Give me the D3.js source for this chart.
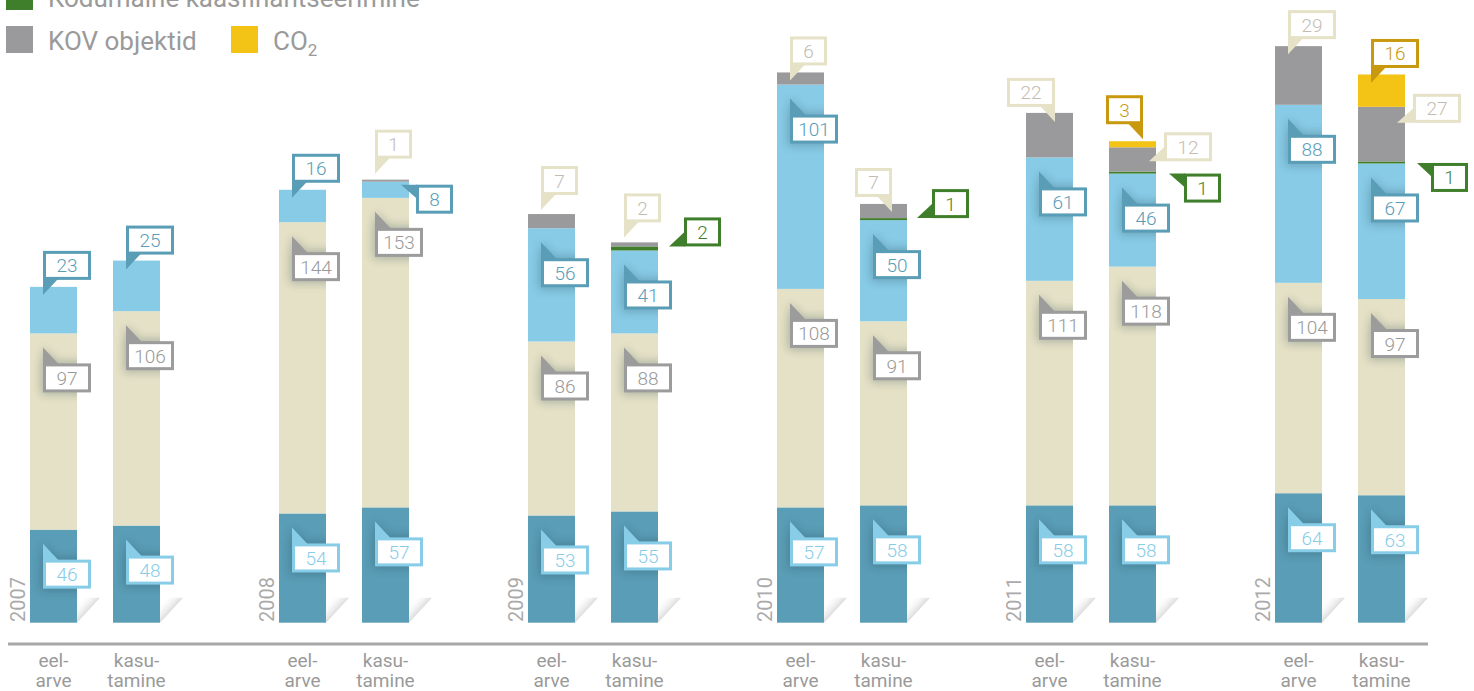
<!DOCTYPE html>
<html><head><meta charset="utf-8">
<script src="https://cdn.jsdelivr.net/npm/d3@7/dist/d3.min.js"></script>
<style>
html,body{margin:0;padding:0;background:#fff;}
svg{display:block;font-family:Roboto,"Noto Sans",sans-serif;}
</style></head>
<body>
<svg id="chart" width="1474" height="691"></svg>
<script>
// ---------- data ----------
const years = ["2007","2008","2009","2010","2011","2012"];
const kinds = ["eelarve","kasutamine"];
const kindLabels = [["eel-","arve"],["kasu-","tamine"]];
const seriesKeys = ["s1","s2","s3","kaasfin","kov","co2"];
// values per bar: 2007 eelarve, 2007 kasutamine, 2008 eelarve, ...
const s1Values      = [46, 48, 54, 57, 53, 55, 57, 58, 58, 58, 64, 63];
const s2Values      = [97, 106, 144, 153, 86, 88, 108, 91, 111, 118, 104, 97];
const s3Values      = [23, 25, 16, 8, 56, 41, 101, 50, 61, 46, 88, 67];
const kaasfinValues = [0, 0, 0, 0, 0, 2, 0, 1, 0, 1, 0, 1];
const kovValues     = [0, 0, 0, 1, 7, 2, 6, 7, 22, 12, 29, 27];
const co2Values     = [0, 0, 0, 0, 0, 0, 0, 0, 0, 3, 0, 16];
const legendLabels = {kaasfin:"Kodumaine kaasfinantseerimine", kov:"KOV objektid", co2:"CO"};

// ---------- styles ----------
const fillColor = {s1:"#5a9db6", s2:"#e5e1c6", s3:"#88cbe6", kaasfin:"#3f7f2b", kov:"#9a9a9c", co2:"#f3c315"};
const labelColor = {s1:"#88cde8", s2:"#9c9c9c", s3:"#5a9db6", kaasfin:"#3f7f2b", kov:"#e6e2c8", co2:"#c8990f"};
const labelText = {s1:"#88cde8", s2:"#999999", s3:"#5a9db6", kaasfin:"#3f7f2b", kov:"#c4bcb2", co2:"#c8990f"};
// label placement (layout only)
const defaultMode = {s1:{mode:"in"}, s2:{mode:"in"}, s3:{mode:"in"}};
const placement = {
  "0:s3":{mode:"above",t:8}, "1:s3":{mode:"above",t:9}, "2:s3":{mode:"above",t:8},
  "3:s3":{mode:"rightTop",gap:7,tip:-8,dy:3},
  "3:kov":{mode:"above",t:-6}, "4:kov":{mode:"above",t:-4}, "5:kov":{mode:"above",t:-5},
  "6:kov":{mode:"above",t:8}, "7:kov":{mode:"aboveR",t:8,dx:32}, "8:kov":{mode:"aboveR",t:9,dx:29},
  "9:kov":{mode:"rightBot",gap:8,tip:-7,dy:14}, "10:kov":{mode:"above",t:8},
  "11:kov":{mode:"rightBot",gap:8,tip:-8,dy:16},
  "5:kaasfin":{mode:"rightBot",gap:26,tip:11,dy:0}, "7:kaasfin":{mode:"rightBot",gap:25,tip:10,dy:0},
  "9:kaasfin":{mode:"rightTop",gap:28,tip:13,dy:2}, "11:kaasfin":{mode:"rightTop",gap:26,tip:12,dy:1.5},
  "9:co2":{mode:"aboveR",t:-2,dx:34}, "11:co2":{mode:"above",t:8.5}
};

// ---------- build ----------
const valuesByKey = {s1:s1Values, s2:s2Values, s3:s3Values, kaasfin:kaasfinValues, kov:kovValues, co2:co2Values};
const bars = [];
years.forEach((y,i)=>kinds.forEach((k,j)=>{
  const idx = i*2+j; const row = {year:y, kind:k, idx};
  seriesKeys.forEach(s=>row[s]=valuesByKey[s][idx]);
  bars.push(row);
}));
const stack = d3.stack().keys(seriesKeys)(bars);

const svg = d3.select("#chart");
const x0 = d3.scaleBand().domain(years).range([20, 20+249*6]);
const x1 = d3.scaleBand().domain(kinds).range([10, 140]).paddingInner(0.434);
const y = d3.scaleLinear().domain([0,300]).range([622.7, 622.7-300*2.023]);
const bw = x1.bandwidth();
const barLeft = d => x0(d.year)+x1(d.kind);

const defs = svg.append("defs");
const grad = defs.append("linearGradient").attr("id","fold")
  .attr("x1",0.6).attr("y1",0.6).attr("x2",0.1).attr("y2",0.1);
grad.append("stop").attr("offset",0).attr("stop-color","#888").attr("stop-opacity",0.45);
grad.append("stop").attr("offset",1).attr("stop-color","#fff").attr("stop-opacity",0);
defs.append("filter").attr("id","blur").attr("x","-50%").attr("y","-50%").attr("width","200%").attr("height","200%")
  .append("feGaussianBlur").attr("stdDeviation",5);
bars.forEach(d=>{
  defs.append("clipPath").attr("id","clip"+d.idx).append("rect")
    .attr("x",barLeft(d)).attr("y",0).attr("width",bw).attr("height",y(0));
});

// fold shadows
svg.append("g").selectAll("path").data(bars).join("path")
  .attr("d",d=>{const R=barLeft(d)+bw, B=y(0); return `M${R},${B}L${R+23},${B-25}L${R},${B-25}Z`;})
  .attr("fill","url(#fold)");

// bars
svg.append("g").selectAll("g").data(stack).join("g")
  .attr("fill",s=>fillColor[s.key])
  .selectAll("rect").data(s=>s.map(p=>({p,key:s.key}))).join("rect")
  .attr("x",d=>barLeft(d.p.data)).attr("width",bw)
  .attr("y",d=>y(d.p[1])).attr("height",d=>Math.max(0,y(d.p[0])-y(d.p[1])));

// labels
const labels = [];
stack.forEach(s=>s.forEach(p=>{
  const v = p[1]-p[0]; if(v<=0) return;
  const d = p.data; const key = `${d.idx}:${s.key}`;
  const pl = placement[key] || defaultMode[s.key];
  labels.push({d, s:s.key, v, top:y(p[1]), pl});
}));

const BH = 29;
function geom(L){
  const v=L.v, w = String(v).length===1?37:48;
  const bl = barLeft(L.d), br = bl+bw, top = L.top, pl=L.pl;
  let bx, by, tri;
  if(pl.mode==="in"){
    bx = bl+13; by = top+30;
    tri = [[bx,top+14],[bx,by+1],[bx+16,by+1]];
  } else if(pl.mode==="above"){
    bx = bl+13; const tip = top+pl.t; by = tip-15-BH;
    tri = [[bx,by+BH-1],[bx+15,by+BH-1],[bx,tip]];
  } else if(pl.mode==="aboveR"){
    const rx = bl+pl.dx; bx = rx-w; const tip = top+pl.t; by = tip-15-BH;
    tri = [[rx-15,by+BH-1],[rx,by+BH-1],[rx,tip]];
  } else if(pl.mode==="rightTop"){
    bx = br+pl.gap; by = top+pl.dy;
    tri = [[br+pl.tip,by],[bx+1,by],[bx+1,by+14]];
  } else { // rightBot
    bx = br+pl.gap; const bb = top+pl.dy; by = bb-BH;
    tri = [[br+pl.tip,bb],[bx+1,bb],[bx+1,bb-15]];
  }
  return {bx,by,w,tri};
}
labels.forEach(L=>L.g=geom(L));

// inner shadows for labels sitting on bars
const shadowG = svg.append("g");
labels.filter(L=>L.pl.mode==="in").forEach(L=>{
  const g = shadowG.append("g").attr("clip-path",`url(#clip${L.d.idx})`)
    .append("g").attr("filter","url(#blur)").attr("opacity",0.28);
  g.append("rect").attr("x",L.g.bx-2).attr("y",L.g.by-2).attr("width",L.g.w+4).attr("height",BH+4).attr("fill","#1d3d4a");
  g.append("path").attr("d","M"+L.g.tri.map(p=>p.join(",")).join("L")+"Z").attr("fill","#1d3d4a");
});

const lg = svg.append("g").selectAll("g").data(labels).join("g");
lg.append("path").attr("d",L=>"M"+L.g.tri.map(p=>p.join(",")).join("L")+"Z").attr("fill",L=>labelColor[L.s]);
lg.append("rect").attr("x",L=>L.g.bx+1.5).attr("y",L=>L.g.by+1.5)
  .attr("width",L=>L.g.w-3).attr("height",BH-3)
  .attr("fill","#fff").attr("stroke",L=>labelColor[L.s]).attr("stroke-width",3);
lg.append("text").attr("x",L=>L.g.bx+L.g.w/2).attr("y",L=>L.g.by+BH/2+7)
  .attr("text-anchor","middle").attr("font-size",19).attr("font-weight",300).attr("fill",L=>labelText[L.s])
  .text(L=>L.v);

// baseline axis
svg.append("line").attr("x1",8).attr("x2",1428).attr("y1",644).attr("y2",644)
  .attr("stroke","#a8a8a8").attr("stroke-width",3);

// category labels (two lines each)
const catG = svg.append("g").attr("font-size",19).attr("fill","#9a9a9a").attr("text-anchor","middle");
[0,1].forEach(line=>{
  catG.append("g").selectAll("text").data(bars).join("text")
    .attr("x",d=>barLeft(d)+bw/2).attr("y",line===0?667:687)
    .text(d=>kindLabels[kinds.indexOf(d.kind)][line]);
});

// year labels
svg.append("g").selectAll("text").data(years).join("text")
  .attr("transform",yr=>`translate(${x0(yr)+x1("eelarve")-5},622) rotate(-90)`)
  .attr("font-size",20).attr("fill","#aaaaaa").text(yr=>yr);

// legend
const legend = svg.append("g");
const legendItems = [
  {key:"kaasfin", x:6, y:-17},
  {key:"kov", x:6, y:26},
  {key:"co2", x:231, y:26}
];
legendItems.forEach(it=>{
  legend.append("rect").attr("x",it.x).attr("y",it.y).attr("width",27).attr("height",27).attr("fill",fillColor[it.key]);
  const t = legend.append("text").attr("x",it.x+42).attr("y",it.y+24).attr("font-size",26).attr("fill","#9a9a9a")
    .text(legendLabels[it.key]);
  if(it.key==="co2") t.append("tspan").attr("font-size",17).attr("dy",6).text("2");
});
</script>
</body></html>
